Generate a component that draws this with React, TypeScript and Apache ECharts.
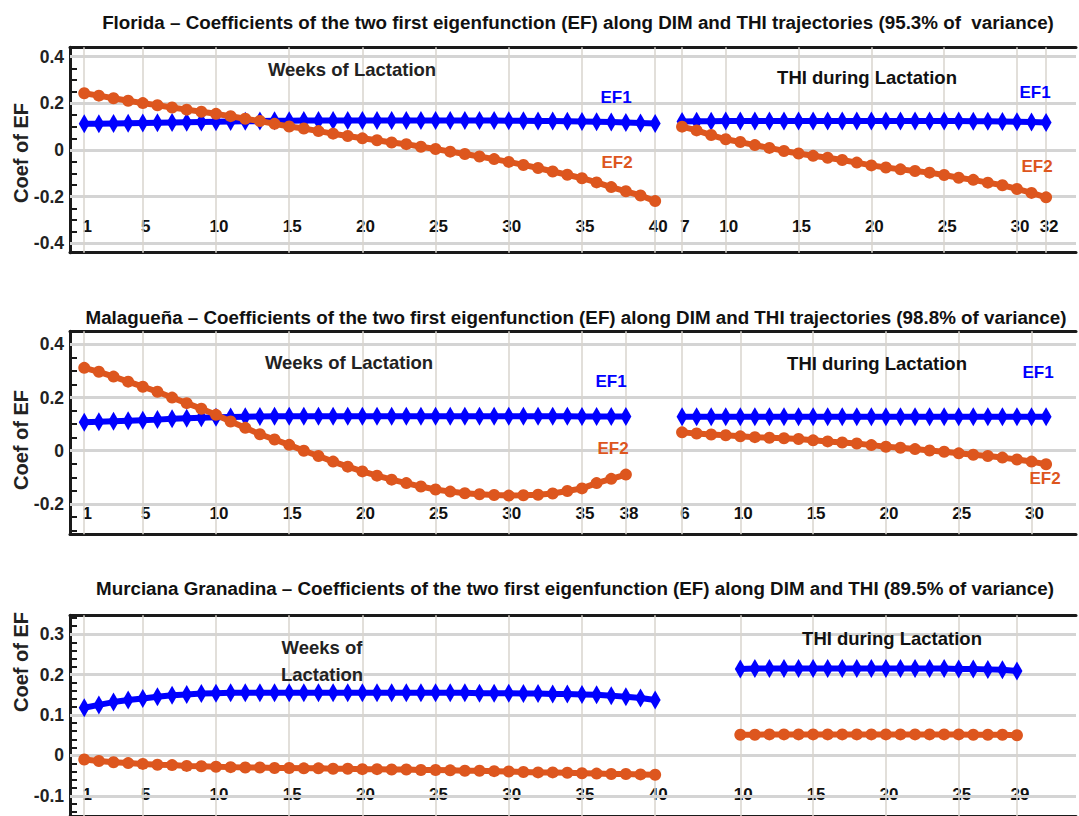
import React, { useEffect, useRef } from "react";
import * as echarts from "echarts";

// ---------- categories / tick lists ----------
const range = (a: number, b: number) => {
  const r: number[] = [];
  for (let i = a; i <= b; i++) r.push(i);
  return r;
};
const steps = (a: number, b: number, s: number) => {
  const r: number[] = [];
  const n = Math.round((b - a) / s);
  for (let i = 0; i <= n; i++) r.push(Math.round((a + i * s) * 1000) / 1000);
  return r;
};

const FL_WEEKS = range(1, 40);
const FL_THI = range(7, 32);
const MA_WEEKS = range(1, 38);
const MA_THI = range(6, 31);
const MG_WEEKS = range(1, 40);
const MG_THI = range(10, 29);

const FL_WEEK_TICKS = [1, 5, 10, 15, 20, 25, 30, 35, 40];
const FL_THI_TICKS = [7, 10, 15, 20, 25, 30, 32];
const MA_WEEK_TICKS = [1, 5, 10, 15, 20, 25, 30, 35, 38];
const MA_THI_TICKS = [6, 10, 15, 20, 25, 30];
const MG_WEEK_TICKS = [1, 5, 10, 15, 20, 25, 30, 35, 40];
const MG_THI_TICKS = [10, 15, 20, 25, 29];

const FL_Y_LABELS = [-0.4, -0.2, 0, 0.2, 0.4];
const MA_Y_LABELS = [-0.2, 0, 0.2, 0.4];
const MG_Y_LABELS = [-0.1, 0, 0.1, 0.2, 0.3];

// ---------- series values ----------
const FL_WEEK_EF1 = [
  0.112, 0.113, 0.114, 0.115, 0.116, 0.117, 0.118, 0.119, 0.12, 0.121,
  0.122, 0.123, 0.124, 0.125, 0.125, 0.126, 0.126, 0.126, 0.126, 0.126,
  0.126, 0.126, 0.126, 0.126, 0.126, 0.126, 0.126, 0.126, 0.126, 0.125,
  0.125, 0.124, 0.124, 0.123, 0.122, 0.121, 0.12, 0.118, 0.116, 0.114,
];
const FL_WEEK_EF2 = [
  0.243, 0.233, 0.222, 0.211, 0.201, 0.192, 0.182, 0.173, 0.164, 0.155,
  0.145, 0.134, 0.124, 0.112, 0.101, 0.092, 0.081, 0.07, 0.06, 0.05,
  0.042, 0.032, 0.025, 0.014, 0.004, -0.007, -0.017, -0.028, -0.039, -0.051,
  -0.064, -0.077, -0.092, -0.106, -0.121, -0.139, -0.159, -0.177, -0.195, -0.219,
];
const FL_THI_EF1 = [
  0.122, 0.123, 0.123, 0.124, 0.124, 0.124, 0.124, 0.124, 0.124, 0.124,
  0.124, 0.124, 0.124, 0.124, 0.124, 0.124, 0.124, 0.124, 0.124, 0.124,
  0.123, 0.123, 0.122, 0.121, 0.12, 0.118,
];
const FL_THI_EF2 = [
  0.1, 0.084, 0.064, 0.046, 0.034, 0.021, 0.009, -0.004, -0.015, -0.025,
  -0.033, -0.043, -0.054, -0.066, -0.075, -0.083, -0.09, -0.097, -0.107, -0.119,
  -0.128, -0.14, -0.151, -0.167, -0.184, -0.203,
];

const MA_WEEK_EF1 = [
  0.107, 0.109, 0.111, 0.113, 0.115, 0.117, 0.12, 0.122, 0.124, 0.126,
  0.127, 0.128, 0.129, 0.13, 0.13, 0.13, 0.13, 0.13, 0.13, 0.13,
  0.13, 0.13, 0.13, 0.13, 0.13, 0.13, 0.13, 0.13, 0.13, 0.13,
  0.13, 0.13, 0.13, 0.13, 0.129, 0.129, 0.129, 0.129,
];
const MA_WEEK_EF2 = [
  0.312, 0.297, 0.279, 0.26, 0.241, 0.222, 0.2, 0.179, 0.158, 0.135,
  0.11, 0.086, 0.062, 0.042, 0.022, 0.0, -0.02, -0.041, -0.06, -0.078,
  -0.094, -0.109, -0.122, -0.135, -0.146, -0.154, -0.16, -0.164, -0.167, -0.169,
  -0.168, -0.166, -0.161, -0.152, -0.142, -0.122, -0.106, -0.09,
];
const MA_THI_EF1 = [
  0.128, 0.128, 0.128, 0.128, 0.128, 0.128, 0.128, 0.128, 0.128, 0.128,
  0.128, 0.128, 0.128, 0.128, 0.128, 0.128, 0.128, 0.128, 0.128, 0.128,
  0.128, 0.128, 0.128, 0.128, 0.128, 0.128,
];
const MA_THI_EF2 = [
  0.069, 0.065, 0.061, 0.058, 0.054, 0.051, 0.049, 0.047, 0.044, 0.039,
  0.035, 0.031, 0.027, 0.021, 0.015, 0.011, 0.006, 0.001, -0.004, -0.01,
  -0.015, -0.02, -0.026, -0.033, -0.041, -0.051,
];

const MG_WEEK_EF1 = [
  0.118, 0.125, 0.132, 0.137, 0.141, 0.145, 0.149, 0.151, 0.153, 0.154,
  0.155, 0.155, 0.155, 0.155, 0.155, 0.155, 0.155, 0.155, 0.155, 0.155,
  0.155, 0.155, 0.155, 0.155, 0.155, 0.155, 0.155, 0.154, 0.154, 0.154,
  0.153, 0.153, 0.152, 0.152, 0.151, 0.15, 0.148, 0.145, 0.142, 0.137,
];
const MG_WEEK_EF2 = [
  -0.01, -0.014, -0.017, -0.019, -0.021, -0.023, -0.024, -0.026, -0.027, -0.028,
  -0.029, -0.03, -0.03, -0.031, -0.031, -0.032, -0.032, -0.033, -0.033, -0.034,
  -0.034, -0.035, -0.035, -0.036, -0.036, -0.037, -0.038, -0.038, -0.039, -0.04,
  -0.041, -0.042, -0.042, -0.043, -0.044, -0.045, -0.046, -0.046, -0.047, -0.048,
];
const MG_THI_EF1 = [
  0.214, 0.215, 0.215, 0.215, 0.215, 0.215, 0.215, 0.215, 0.215, 0.215,
  0.215, 0.215, 0.215, 0.215, 0.215, 0.214, 0.214, 0.213, 0.212, 0.209,
];
const MG_THI_EF2 = [
  0.051, 0.051, 0.052, 0.052, 0.052, 0.052, 0.052, 0.052, 0.052, 0.052,
  0.052, 0.052, 0.052, 0.052, 0.052, 0.052, 0.051, 0.051, 0.051, 0.05,
];

const TITLES = [
  "Florida \u2013 Coefficients of the two first eigenfunction (EF) along DIM and THI trajectories (95.3% of  variance)",
  "Malague\u00f1a \u2013 Coefficients of the two first eigenfunction (EF) along DIM and THI trajectories (98.8% of variance)",
  "Murciana Granadina \u2013 Coefficients of the two first eigenfunction (EF) along DIM and THI (89.5% of variance)",
];

const PANELS = [
  {
    title: TITLES[0],
    weeks: FL_WEEKS, thi: FL_THI,
    wEF1: FL_WEEK_EF1, wEF2: FL_WEEK_EF2, tEF1: FL_THI_EF1, tEF2: FL_THI_EF2,
    wTicks: FL_WEEK_TICKS, tTicks: FL_THI_TICKS,
    yLabels: FL_Y_LABELS, yTicks: steps(-0.4, 0.4, 0.05),
    weeksText: "Weeks of Lactation",
  },
  {
    title: TITLES[1],
    weeks: MA_WEEKS, thi: MA_THI,
    wEF1: MA_WEEK_EF1, wEF2: MA_WEEK_EF2, tEF1: MA_THI_EF1, tEF2: MA_THI_EF2,
    wTicks: MA_WEEK_TICKS, tTicks: MA_THI_TICKS,
    yLabels: MA_Y_LABELS, yTicks: steps(-0.3, 0.4, 0.05),
    weeksText: "Weeks of Lactation",
  },
  {
    title: TITLES[2],
    weeks: MG_WEEKS, thi: MG_THI,
    wEF1: MG_WEEK_EF1, wEF2: MG_WEEK_EF2, tEF1: MG_THI_EF1, tEF2: MG_THI_EF2,
    wTicks: MG_WEEK_TICKS, tTicks: MG_THI_TICKS,
    yLabels: MG_Y_LABELS, yTicks: steps(-0.14, 0.34, 0.02),
    weeksText: "Weeks of\nLactation",
  },
];

// ---------- layout (pixels) ----------
const LAYOUT = [
  {
    zeroY: 150, ppu: 233.3, ymin: -0.44, ymax: 0.44, labelY: 226, thiMin: 6,
    title: [578, 22], coef: 153, weeksPos: [352, 69], thiPos: [867, 77],
    ef: [[616, 97], [617, 162], [1035, 92], [1037, 166]],
  },
  {
    zeroY: 450.7, ppu: 265.6, ymin: -0.315, ymax: 0.45, labelY: 513.5, thiMin: 5,
    title: [576, 317], coef: 440, weeksPos: [349, 362], thiPos: [877, 363],
    ef: [[611, 381], [613, 448], [1038, 372], [1045, 478]],
  },
  {
    zeroY: 757, ppu: 408.5, ymin: -0.15, ymax: 0.347, labelY: 797, thiMin: 5,
    title: [575, 588], coef: 662, weeksPos: [322, 661], thiPos: [892, 638],
    ef: [],
  },
];

const FONT = "'Liberation Sans', Arial, Helvetica, sans-serif";
const BLUE = "#0000ff";
const ORANGE = "#dd561e";
const FRAME = "#1a1a1a";

const zip = (xs: number[], ys: number[]) => xs.map((x, i) => [x, ys[i]]);
const fmt = (v: number) => String(Math.round(v * 100) / 100);

function text(x: number, y: number, t: string, size: number, color: string, rotation = 0, lineHeight?: number) {
  return {
    type: "text",
    x,
    y,
    z: 100,
    rotation,
    silent: true,
    style: {
      text: t,
      fill: color,
      fontSize: size,
      fontWeight: "bold",
      fontFamily: FONT,
      align: "center",
      verticalAlign: "middle",
      textAlign: "center",
      textVerticalAlign: "middle",
      lineHeight: lineHeight,
    },
  };
}

function buildOption() {
  const grid: any[] = [];
  const xAxis: any[] = [];
  const yAxis: any[] = [];
  const series: any[] = [];
  const graphic: any[] = [];

  const hiddenLine = { show: false, onZero: false };

  PANELS.forEach((p, i) => {
    const L = LAYOUT[i];
    const top = L.zeroY - L.ymax * L.ppu;
    const height = (L.ymax - L.ymin) * L.ppu;
    const bottom = top + height;

    const gF = grid.length;
    grid.push({ left: 70, top, width: 1006, height });
    const gL = grid.length;
    grid.push({ left: 69.6, top, width: 600.2, height });
    const gR = grid.length;
    grid.push({ left: 667.5, top, width: 407.7, height });

    // ---- frame axes ----
    const frameX = (pos: string) => ({
      gridIndex: gF, type: "value", min: 0, max: 1, position: pos,
      axisLine: { show: true, onZero: false, lineStyle: { color: FRAME, width: 3 } },
      axisTick: { show: false }, axisLabel: { show: false }, splitLine: { show: false },
    });
    const xFb = xAxis.length;
    xAxis.push(frameX("bottom"));
    xAxis.push(frameX("top"));

    const yF = yAxis.length;
    yAxis.push({
      gridIndex: gF, type: "value", min: L.ymin, max: L.ymax, position: "left",
      axisLine: { show: true, onZero: false, lineStyle: { color: FRAME, width: 3 } },
      axisTick: { show: true, inside: true, length: 7, customValues: p.yTicks, lineStyle: { color: FRAME, width: 2 } },
      axisLabel: {
        customValues: p.yLabels, formatter: fmt, fontSize: 17.5, fontWeight: "bold",
        color: "#222", fontFamily: FONT, margin: 6,
      },
      splitLine: { show: false },
    });
    yAxis.push({
      gridIndex: gF, type: "value", min: L.ymin, max: L.ymax, position: "right",
      axisLine: hiddenLine,
      axisTick: { show: true, inside: true, length: 5, customValues: p.yLabels, lineStyle: { color: FRAME, width: 2 } },
      axisLabel: { show: false }, splitLine: { show: false },
    });

    series.push({
      type: "line", xAxisIndex: xFb, yAxisIndex: yF, data: [], silent: true, z: 1,
      markLine: {
        silent: true, z: 1, symbol: ["none", "none"], label: { show: false },
        lineStyle: { color: "#d4d4d4", width: 3, type: "solid" },
        data: p.yLabels.map((v) => ({ yAxis: v })),
      },
    });

    // ---- sub grids ----
    const axisY = L.labelY - 4 - 8.5;
    const offset = axisY - bottom;
    const subX = (g: number, min: number, max: number, ticks: number[]) => ({
      gridIndex: g, type: "value", min, max, position: "bottom", offset,
      axisLine: hiddenLine, axisTick: { show: false }, splitLine: { show: false },
      axisLabel: {
        customValues: ticks, fontSize: 17, fontWeight: "bold", color: "#111",
        fontFamily: FONT, margin: 4, padding: [0, 0, 0, 6],
      },
    });
    const subY = (g: number) => ({
      gridIndex: g, type: "value", min: L.ymin, max: L.ymax, show: false,
    });

    const sides = [
      { g: gL, min: 0, max: 41, xs: p.weeks, e1: p.wEF1, e2: p.wEF2, ticks: p.wTicks },
      { g: gR, min: L.thiMin, max: L.thiMin + 28, xs: p.thi, e1: p.tEF1, e2: p.tEF2, ticks: p.tTicks },
    ];
    sides.forEach((s) => {
      const xi = xAxis.length;
      xAxis.push(subX(s.g, s.min, s.max, s.ticks));
      const yi = yAxis.length;
      yAxis.push(subY(s.g));
      series.push({
        type: "line", xAxisIndex: xi, yAxisIndex: yi, data: [], silent: true, z: 1,
        markLine: {
          silent: true, z: 1, symbol: ["none", "none"], label: { show: false },
          lineStyle: { color: "#d9d5ce", width: 1.5, type: "solid" },
          data: s.ticks.map((v) => ({ xAxis: v })),
        },
      });
      series.push({
        name: "EF1", type: "line", xAxisIndex: xi, yAxisIndex: yi, silent: true, z: 3,
        data: zip(s.xs, s.e1), symbol: "diamond", symbolSize: [11, 19], showAllSymbol: true,
        lineStyle: { color: BLUE, width: 6 }, itemStyle: { color: BLUE },
      });
      series.push({
        name: "EF2", type: "line", xAxisIndex: xi, yAxisIndex: yi, silent: true, z: 4,
        data: zip(s.xs, s.e2), symbol: "circle", symbolSize: 12, showAllSymbol: true,
        lineStyle: { color: ORANGE, width: 6 }, itemStyle: { color: ORANGE },
      });
    });

    // ---- texts ----
    graphic.push(text(L.title[0], L.title[1], p.title, 18.8, "#111"));
    graphic.push(text(20.7, L.coef, "Coef of EF", 20, "#222", Math.PI / 2));
    graphic.push(text(L.weeksPos[0], L.weeksPos[1], p.weeksText, 18.5, "#222", 0, 27));
    graphic.push(text(L.thiPos[0], L.thiPos[1], "THI during Lactation", 18.5, "#111"));
    L.ef.forEach((pos, k) => {
      const isEF1 = k % 2 === 0;
      graphic.push(text(pos[0], pos[1], isEF1 ? "EF1" : "EF2", 17, isEF1 ? BLUE : ORANGE));
    });
  });

  return {
    animation: false,
    backgroundColor: "#ffffff",
    grid,
    xAxis,
    yAxis,
    series,
    graphic: { elements: graphic },
  };
}

export default function App() {
  const ref = useRef<HTMLDivElement>(null);
  useEffect(() => {
    const chart = echarts.init(ref.current!, null, { renderer: "svg" });
    chart.setOption(buildOption() as any);
    return () => chart.dispose();
  }, []);
  return (
    <div
      ref={ref}
      style={{ position: "absolute", left: 0, top: 0, width: 1079, height: 816, background: "#fff" }}
    />
  );
}
